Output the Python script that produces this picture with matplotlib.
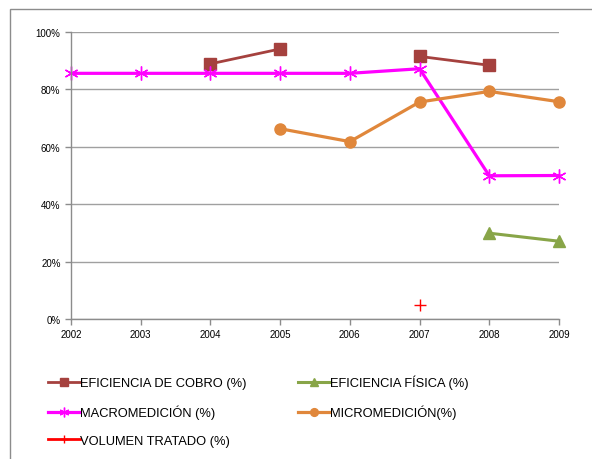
import numpy as np
import matplotlib
matplotlib.use('Agg')
import matplotlib.pyplot as plt
from matplotlib.patches import Rectangle
from matplotlib.ticker import FuncFormatter

# -- Datos --
anios = [2002, 2003, 2004, 2005, 2006, 2007, 2008, 2009]
nan = np.nan
cobro   = [nan, nan, 88.9, 94.1, nan, 91.5, 88.4, nan]
fisica  = [nan, nan, nan, nan, nan, nan, 29.9, 27.1]
macro   = [85.6, 85.6, 85.6, 85.6, 85.6, 87.2, 49.9, 50.0]
micro   = [nan, nan, nan, 66.3, 61.8, 75.6, 79.3, 75.7]
volumen = [nan, nan, nan, nan, nan, 4.8, nan, nan]

etiquetas = ['EFICIENCIA DE COBRO (%)', 'EFICIENCIA FÍSICA (%)',
             'MACROMEDICIÓN (%)', 'MICROMEDICIÓN(%)', 'VOLUMEN TRATADO (%)']

plt.rcParams['font.family'] = ['Liberation Sans', 'DejaVu Sans']

fig = plt.figure(figsize=(5.92, 4.6), dpi=100)
ax = fig.add_axes([71/592, 1-320/460, (559-71)/592, (320-33)/460])

# marco exterior (cortado por la derecha y abajo)
fig.patches.append(Rectangle((10/592, -0.1), 1.2, 1.1 - 10/460,
                             transform=fig.transFigure, fill=False,
                             edgecolor='#8c8c8c', linewidth=1.0))

x = np.array(anios)
l_cobro, = ax.plot(x, cobro, color='#A5413E', lw=2, marker='s', ms=8.5,
                   label=etiquetas[0], clip_on=False)
l_fis, = ax.plot(x, fisica, color='#88A548', lw=2.2, marker='^', ms=9,
                 label=etiquetas[1], clip_on=False)
l_macro, = ax.plot(x, macro, color='#FF00FF', lw=2.3, marker=(6, 2, 0), ms=10,
                   mew=1, label=etiquetas[2], clip_on=False)
l_micro, = ax.plot(x, micro, color='#E0873B', lw=2.3, marker='o', ms=8,
                   label=etiquetas[3], clip_on=False)
l_vol, = ax.plot(x, volumen, color='#FF0000', lw=2, marker='+', ms=9, mew=1,
                 label=etiquetas[4], clip_on=False)

ax.set_xlim(2002, 2009)
ax.set_ylim(0, 100)
ax.set_xticks(anios)
ax.set_yticks(np.arange(0, 101, 20))
ax.yaxis.set_major_formatter(FuncFormatter(lambda v, p: '%d%%' % v))
ax.tick_params(labelsize=7, length=4, color='#8c8c8c', width=1)
ax.tick_params(axis='x', pad=3)
ax.grid(axis='y', color='#a0a0a0', lw=1)
ax.set_axisbelow(True)
for s in ['top', 'right']:
    ax.spines[s].set_visible(False)
for s in ['left', 'bottom']:
    ax.spines[s].set_color('#8c8c8c')
    ax.spines[s].set_linewidth(1)

# leyenda: orden por columnas para obtener filas como en el original
fig.legend([l_cobro, l_macro, l_vol, l_fis, l_micro],
           [etiquetas[0], etiquetas[2], etiquetas[4], etiquetas[1], etiquetas[3]],
           ncol=2, loc='upper left', bbox_to_anchor=(36/592, 1-364/460),
           frameon=False, fontsize=9.3, handlelength=2.5, handletextpad=0.0,
           columnspacing=4.0, labelspacing=1.2, markerscale=0.7)

fig.savefig('out.png', dpi=100)
